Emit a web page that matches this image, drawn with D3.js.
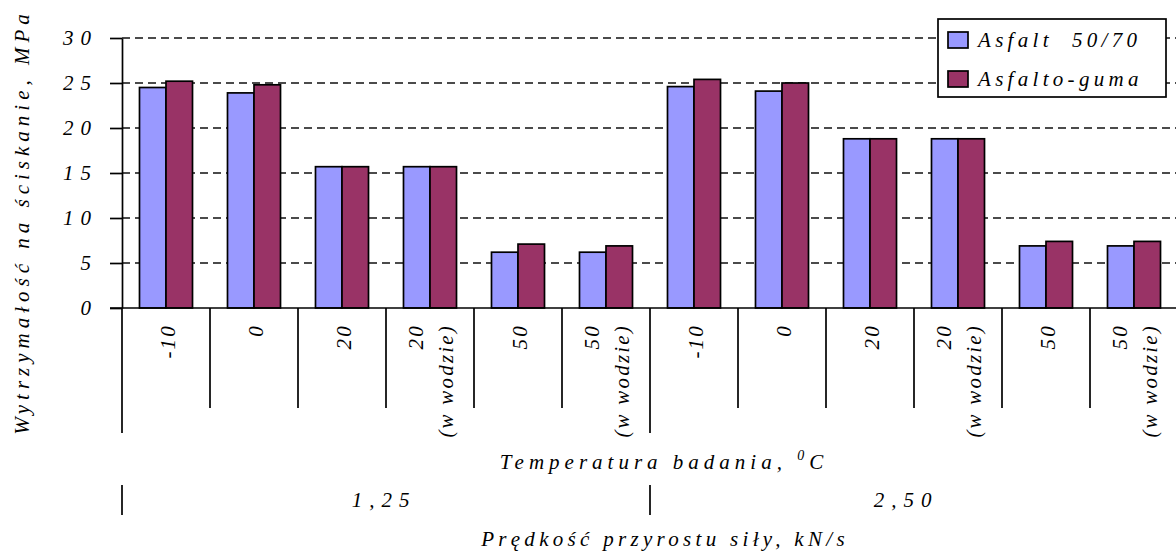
<!DOCTYPE html>
<html>
<head>
<meta charset="utf-8">
<script src="https://cdn.jsdelivr.net/npm/d3@7"></script>
<style>
  html, body { margin: 0; padding: 0; background: #fff; }
</style>
</head>
<body>
<svg id="chart" width="1176" height="553"></svg>
<script>
// Compressive strength of asphalt mixes by test temperature and loading rate
const speeds = ["1,25", "2,50"];
const temperatures = [["-10"], ["0"], ["20"], ["20", "(w wodzie)"], ["50"], ["50", "(w wodzie)"]];
const seriesNames = ["Asfalt  50/70", "Asfalto-guma"];
const asfalt = [24.5, 23.9, 15.7, 15.7, 6.2, 6.2, 24.6, 24.1, 18.8, 18.8, 6.9, 6.9];
const asfaltoGuma = [25.2, 24.8, 15.7, 15.7, 7.1, 6.9, 25.4, 25.0, 18.8, 18.8, 7.4, 7.4];
const yTicks = [0, 5, 10, 15, 20, 25, 30];
const colors = ["#9999ff", "#993366"];

const yTitle = "Wytrzymałość na ściskanie, MPa";
const xTitle = "Temperatura badania, ";
const groupTitle = "Prędkość przyrostu siły, kN/s";

// one row per (speed, temperature) pair
const rows = [];
speeds.forEach((s, si) => {
  temperatures.forEach((t, ti) => {
    const i = si * temperatures.length + ti;
    rows.push({ idx: i, speed: s, label: t, values: [asfalt[i], asfaltoGuma[i]] });
  });
});

const FONT = '"Liberation Serif", "Times New Roman", serif';
const fontSize = 21;

// shared italic serif text style
function styled(sel, size, spacing) {
  return sel
    .style("font-family", FONT)
    .style("font-style", "italic")
    .style("font-size", size + "px")
    .style("letter-spacing", spacing + "px")
    .style("white-space", "pre")
    .attr("fill", "#000");
}

const svg = d3.select("#chart");
const plotLeft = 122, plotRight = 1178, plotTop = 38, plotBottom = 308;

const x0 = d3.scaleBand().domain(rows.map(r => r.idx)).range([plotLeft, plotRight]);
const x1 = d3.scaleBand().domain([0, 1]).range([0, x0.bandwidth()]).paddingInner(0).paddingOuter(0.66);
const y = d3.scaleLinear().domain([0, 30]).range([plotBottom, plotTop]);

// dashed gridlines
svg.append("g")
  .selectAll("line")
  .data(yTicks.filter(v => v > 0))
  .join("line")
  .attr("x1", plotLeft).attr("x2", 1176)
  .attr("y1", d => y(d)).attr("y2", d => y(d))
  .attr("stroke", "#111").attr("stroke-width", 1.7)
  .attr("stroke-dasharray", "8,5");

// value axis
const yAxis = svg.append("g")
  .attr("transform", `translate(${plotLeft},0)`)
  .call(d3.axisLeft(y).tickValues(yTicks).tickSize(12).tickSizeOuter(0).tickPadding(12));
yAxis.select(".domain").attr("stroke", "#000").attr("stroke-width", 1.7);
yAxis.selectAll(".tick line").attr("stroke", "#000").attr("stroke-width", 1.7);
styled(yAxis.selectAll(".tick text"), fontSize, 7);

// bars
const groups = svg.append("g")
  .selectAll("g")
  .data(rows)
  .join("g")
  .attr("transform", d => `translate(${x0(d.idx)},0)`);

groups.selectAll("rect")
  .data(d => d.values.map((v, k) => ({ k, v })))
  .join("rect")
  .attr("x", d => x1(d.k))
  .attr("width", x1.bandwidth())
  .attr("y", d => y(d.v))
  .attr("height", d => y(0) - y(d.v))
  .attr("fill", d => colors[d.k])
  .attr("stroke", "#000").attr("stroke-width", 1.7);

// category axis line
svg.append("line")
  .attr("x1", 110).attr("x2", plotRight)
  .attr("y1", plotBottom).attr("y2", plotBottom)
  .attr("stroke", "#000").attr("stroke-width", 1.7);

// category separators (longer at speed group boundaries)
svg.append("g")
  .selectAll("line")
  .data(d3.range(rows.length + 1))
  .join("line")
  .attr("x1", i => plotLeft + i * x0.step()).attr("x2", i => plotLeft + i * x0.step())
  .attr("y1", plotBottom)
  .attr("y2", i => (i % temperatures.length === 0) ? 433 : 408)
  .attr("stroke", "#000").attr("stroke-width", 1.7);

// rotated temperature labels
const lab = styled(svg.append("g")
  .selectAll("text")
  .data(rows)
  .join("text"), fontSize, 2.2)
  .attr("transform", d => `translate(${x0(d.idx) + x0.bandwidth() / 2},324) rotate(-90)`)
  .attr("text-anchor", "end");
lab.each(function(d) {
  const n = d.label.length;
  d3.select(this).selectAll("tspan")
    .data(d.label)
    .join("tspan")
    .attr("x", 0)
    .attr("y", (t, j) => (n === 1 ? 2 : (j === 0 ? -14 : 16)))
    .attr("dy", "0.35em")
    .text(t => t);
});

// temperature axis title with superscript degree mark
const xt = styled(svg.append("text"), fontSize, 5)
  .attr("x", 664).attr("y", 469)
  .attr("text-anchor", "middle");
xt.append("tspan").text(xTitle);
xt.append("tspan").attr("dy", -9).style("font-size", "14px").text("0");
xt.append("tspan").attr("dy", 9).text("C");

// speed group separators and labels
svg.append("g")
  .selectAll("line")
  .data(d3.range(speeds.length + 1))
  .join("line")
  .attr("x1", i => plotLeft + i * temperatures.length * x0.step())
  .attr("x2", i => plotLeft + i * temperatures.length * x0.step())
  .attr("y1", 485).attr("y2", 515)
  .attr("stroke", "#000").attr("stroke-width", 1.7);

styled(svg.append("g")
  .selectAll("text")
  .data(speeds)
  .join("text"), fontSize, 7)
  .attr("x", (s, i) => plotLeft + (i + 0.5) * temperatures.length * x0.step() - 2 - i * 6)
  .attr("y", 507)
  .attr("text-anchor", "middle")
  .text(s => s);

styled(svg.append("text"), fontSize, 4.3)
  .attr("x", 665).attr("y", 546)
  .attr("text-anchor", "middle")
  .text(groupTitle);

// value axis title
styled(svg.append("text"), fontSize, 5)
  .attr("transform", "translate(29,222) rotate(-90)")
  .attr("text-anchor", "middle")
  .text(yTitle);

// legend
const legend = svg.append("g").attr("transform", "translate(938,19)");
legend.append("rect")
  .attr("width", 228).attr("height", 78)
  .attr("fill", "#fff").attr("stroke", "#000").attr("stroke-width", 1.7);
const li = legend.selectAll("g.item")
  .data(seriesNames)
  .join("g").attr("class", "item")
  .attr("transform", (d, i) => `translate(10,${13 + i * 39})`);
li.append("rect")
  .attr("width", 20).attr("height", 16)
  .attr("fill", (d, i) => colors[i])
  .attr("stroke", "#000").attr("stroke-width", 1.7);
styled(li.append("text"), fontSize, 4.3)
  .attr("x", 30).attr("y", 15)
  .text(d => d);
</script>
</body>
</html>
